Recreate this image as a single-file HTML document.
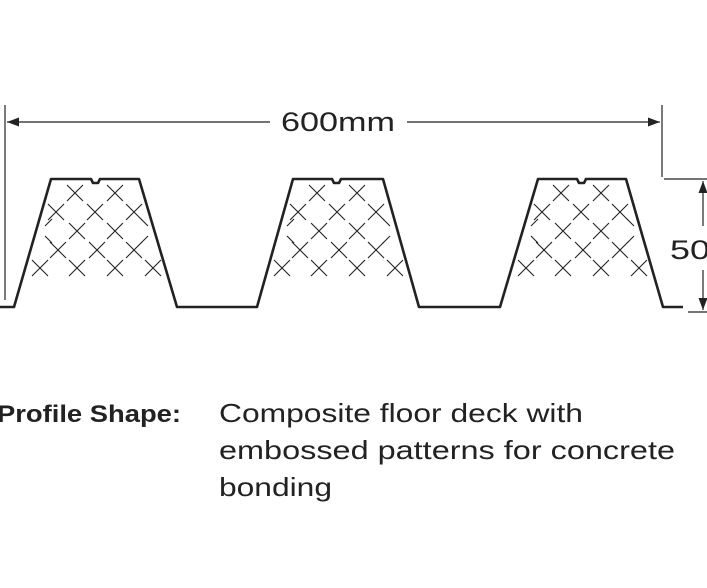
<!DOCTYPE html>
<html><head><meta charset="utf-8"><style>
html,body{margin:0;padding:0;background:#fff;width:707px;height:588px;overflow:hidden}
svg{display:block}
text{font-family:"Liberation Sans",sans-serif;fill:#222}
</style></head><body>
<svg id="s" width="707" height="588" viewBox="0 0 707 588" xmlns="http://www.w3.org/2000/svg">
<g stroke="#222" fill="none">
<line x1="5" y1="105" x2="5" y2="300" stroke-width="1.2"/>
<line x1="662" y1="105" x2="662" y2="177" stroke-width="1.2"/>
<line x1="7" y1="122" x2="270" y2="122" stroke-width="1.2"/>
<line x1="407" y1="122" x2="660" y2="122" stroke-width="1.2"/>
<line x1="664" y1="179" x2="707" y2="179" stroke-width="1.2"/>
<line x1="688" y1="312" x2="707" y2="312" stroke-width="1.2"/>
<line x1="703" y1="181" x2="703" y2="226" stroke-width="1.2"/>
<line x1="703" y1="270" x2="703" y2="310" stroke-width="1.2"/>
<path stroke-width="2.6" stroke-linejoin="round" d="M0 307 H14 L51 179 H91 L93 183 H98 L100 179 H139 L177 307 H257 L293 179 H332 L334 183 H339 L341 179 H383 L419 307 H500 L538 179 H577 L579 183 H584 L586 179 H626 L663 307 H683"/>
</g>
<g fill="#222">
<polygon points="7,122 19,117.5 19,126.5"/>
<polygon points="660,122 648,117.5 648,126.5"/>
<polygon points="703,181 698.5,193 707.5,193"/>
<polygon points="703,310 698.5,298 707.5,298"/>
</g>
<g id="x" stroke="#222" stroke-width="1.1" fill="none"></g>
<text x="338" y="131" font-size="27" text-anchor="middle" textLength="114" lengthAdjust="spacingAndGlyphs">600mm</text>
<text x="670" y="259" font-size="27" textLength="40" lengthAdjust="spacingAndGlyphs">50</text>
<text x="-3" y="422" font-size="24" font-weight="bold" textLength="184" lengthAdjust="spacingAndGlyphs">Profile Shape:</text>
<text x="219" y="422" font-size="26" textLength="364" lengthAdjust="spacingAndGlyphs">Composite floor deck with</text>
<text x="219" y="459" font-size="26" textLength="456" lengthAdjust="spacingAndGlyphs">embossed  patterns for concrete</text>
<text x="219" y="496" font-size="26" textLength="113" lengthAdjust="spacingAndGlyphs">bonding</text>
</svg>
<script>
var g=document.getElementById('x'),ns='http://www.w3.org/2000/svg';
var rows=[[193,[75,115]],[212,[56,95,134]],[231,[77,115]],[250,[58,97,134]],[268,[40,77,115,153]]];
var offs=[0,242,486];
offs.forEach(function(o){rows.forEach(function(r){r[1].forEach(function(x){
var cx=x+o,cy=r[0],h=8;
var p=document.createElementNS(ns,'path');
p.setAttribute('d','M'+(cx-h)+' '+(cy-h)+'L'+(cx+h)+' '+(cy+h)+'M'+(cx+h)+' '+(cy-h)+'L'+(cx-h)+' '+(cy+h));
g.appendChild(p);});});
[[45,226,52,219],[45,236,52,243],[148,226,141,219],[148,236,141,243]].forEach(function(a){
var p=document.createElementNS(ns,'path');
p.setAttribute('d','M'+(a[0]+o)+' '+a[1]+'L'+(a[2]+o)+' '+a[3]);g.appendChild(p);});});
</script>
</body></html>
